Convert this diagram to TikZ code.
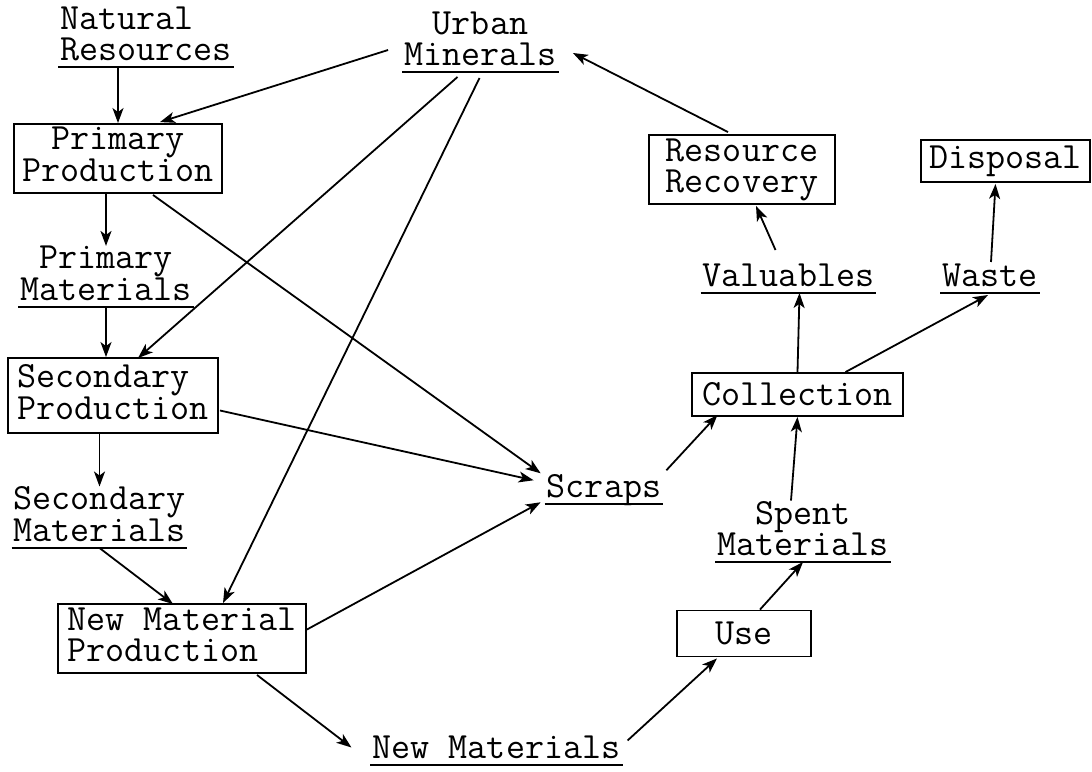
\documentclass[tikz,border=0pt]{standalone}
\usepackage{fontspec}
\usetikzlibrary{arrows.meta,calc}
\begin{document}
\begin{tikzpicture}[x=1pt,y=-1pt,
  every node/.style={font=\ttfamily\fontsize{37}{31}\selectfont},
  box/.style={draw,line width=1.9pt,inner sep=0pt,align=center},
  lab/.style={inner xsep=2pt,inner ysep=0pt,text depth=6pt,align=center,anchor=south},
  arr/.style={line width=1.8pt,-{Stealth[length=15pt,width=11pt,inset=4pt]}},
  uline/.style={line width=2.2pt}]
\useasboundingbox (0,0) rectangle (1092,771);

% boxes
\node[box,minimum width=208,minimum height=69,text depth=8pt] (pp) at (118,158.5) {Primary\\Production};
\node[box,minimum width=210,minimum height=75,text depth=8pt,align=left] (sp) at (113,395.5) {Secondary\\Production};
\node[box,minimum width=248,minimum height=69,text depth=8pt,align=left] (nmp) at (182,638.5) {New Material\\Production};
\node[box,minimum width=186,minimum height=69,text depth=8pt] (rr) at (742,169.5) {Resource\\Recovery};
\node[box,minimum width=169,minimum height=42] (disp) at (1005.5,161) {Disposal};
\node[box,minimum width=211,minimum height=43] (coll) at (797.5,394.5) {Collection};
\node[box,minimum width=134,minimum height=46] (use) at (744,633.5) {Use};

% underlined labels
\node[lab,align=left] (nr) at (146,67) {Natural\\Resources};
\node[lab] (um) at (480.5,72) {Urban\\Minerals};
\node[lab] (pm) at (106,307) {Primary\\Materials};
\node[lab] (sm) at (99.5,548) {Secondary\\Materials};
\node[lab] (scr) at (604,504) {Scraps};
\node[lab] (nm) at (496.5,765) {New Materials};
\node[lab] (spm) at (803,562) {Spent\\Materials};
\node[lab] (val) at (788.5,293) {Valuables};
\node[lab] (wst) at (990,293) {Waste};
\foreach \n in {nr,um,pm,sm,scr,nm,spm,val,wst}
  \draw[uline] (\n.south west) -- (\n.south east);

% connectors
\draw[arr] (nr.south -| pp.north) -- (pp.north);
\draw[arr] ($(um.west)+(-14,8)$) -- ($(pp.north)+(42,-1)$);
\draw[arr] ($(um.south)+(-23,5)$) -- ($(sp.north)+(25,1)$);
\draw[arr] ($(um.south)+(-1,6)$) -- ($(nmp.north)+(41,0)$);
\draw[arr] ($(rr.north)+(-14,-2)$) -- ($(um.east)+(14,11)$);
\draw[arr] (pp.south -| pm.north) -- (pm.north);
\draw[arr] ($(pp.south)+(35,1)$) -- ($(scr.west)+(-4,-16)$);
\draw[arr] (pm.south) -- (pm.south |- sp.north);
\draw[arr] ($(sp.east)+(1,15)$) -- ($(scr.west)+(-11,-9)$);
\draw[arr] (sp.south -| sm.north) -- (sm.north);
\draw[arr] (sm.south) -- ($(nmp.north)+(-9,1)$);
\draw[arr] ($(nmp.east)+(0,-9)$) -- ($(scr.west)+(-4,13)$);
\draw[arr] ($(nmp.south)+(75,1)$) -- ($(nm.west)+(-19,-3)$);
\draw[arr] ($(nm.east)+(5,-10)$) -- ($(use.south)+(-27,1)$);
\draw[arr] ($(use.north)+(16,0)$) -- (spm.south);
\draw[arr] ($(spm.north)+(-12,-1)$) -- (coll.south);
\draw[arr] ($(scr.east)+(3,-19)$) -- ($(coll.south)+(-80,-2)$);
\draw[arr] (coll.north) -- ($(val.south)+(11,0)$);
\draw[arr] ($(coll.north)+(48,0)$) -- ($(wst.south)+(-2,2)$);
\draw[arr] ($(val.north)+(-13,-14)$) -- ($(rr.south)+(14,1)$);
\draw[arr] ($(wst.north)+(1,-2)$) -- ($(disp.south)+(-10,1)$);
\end{tikzpicture}
\end{document}
